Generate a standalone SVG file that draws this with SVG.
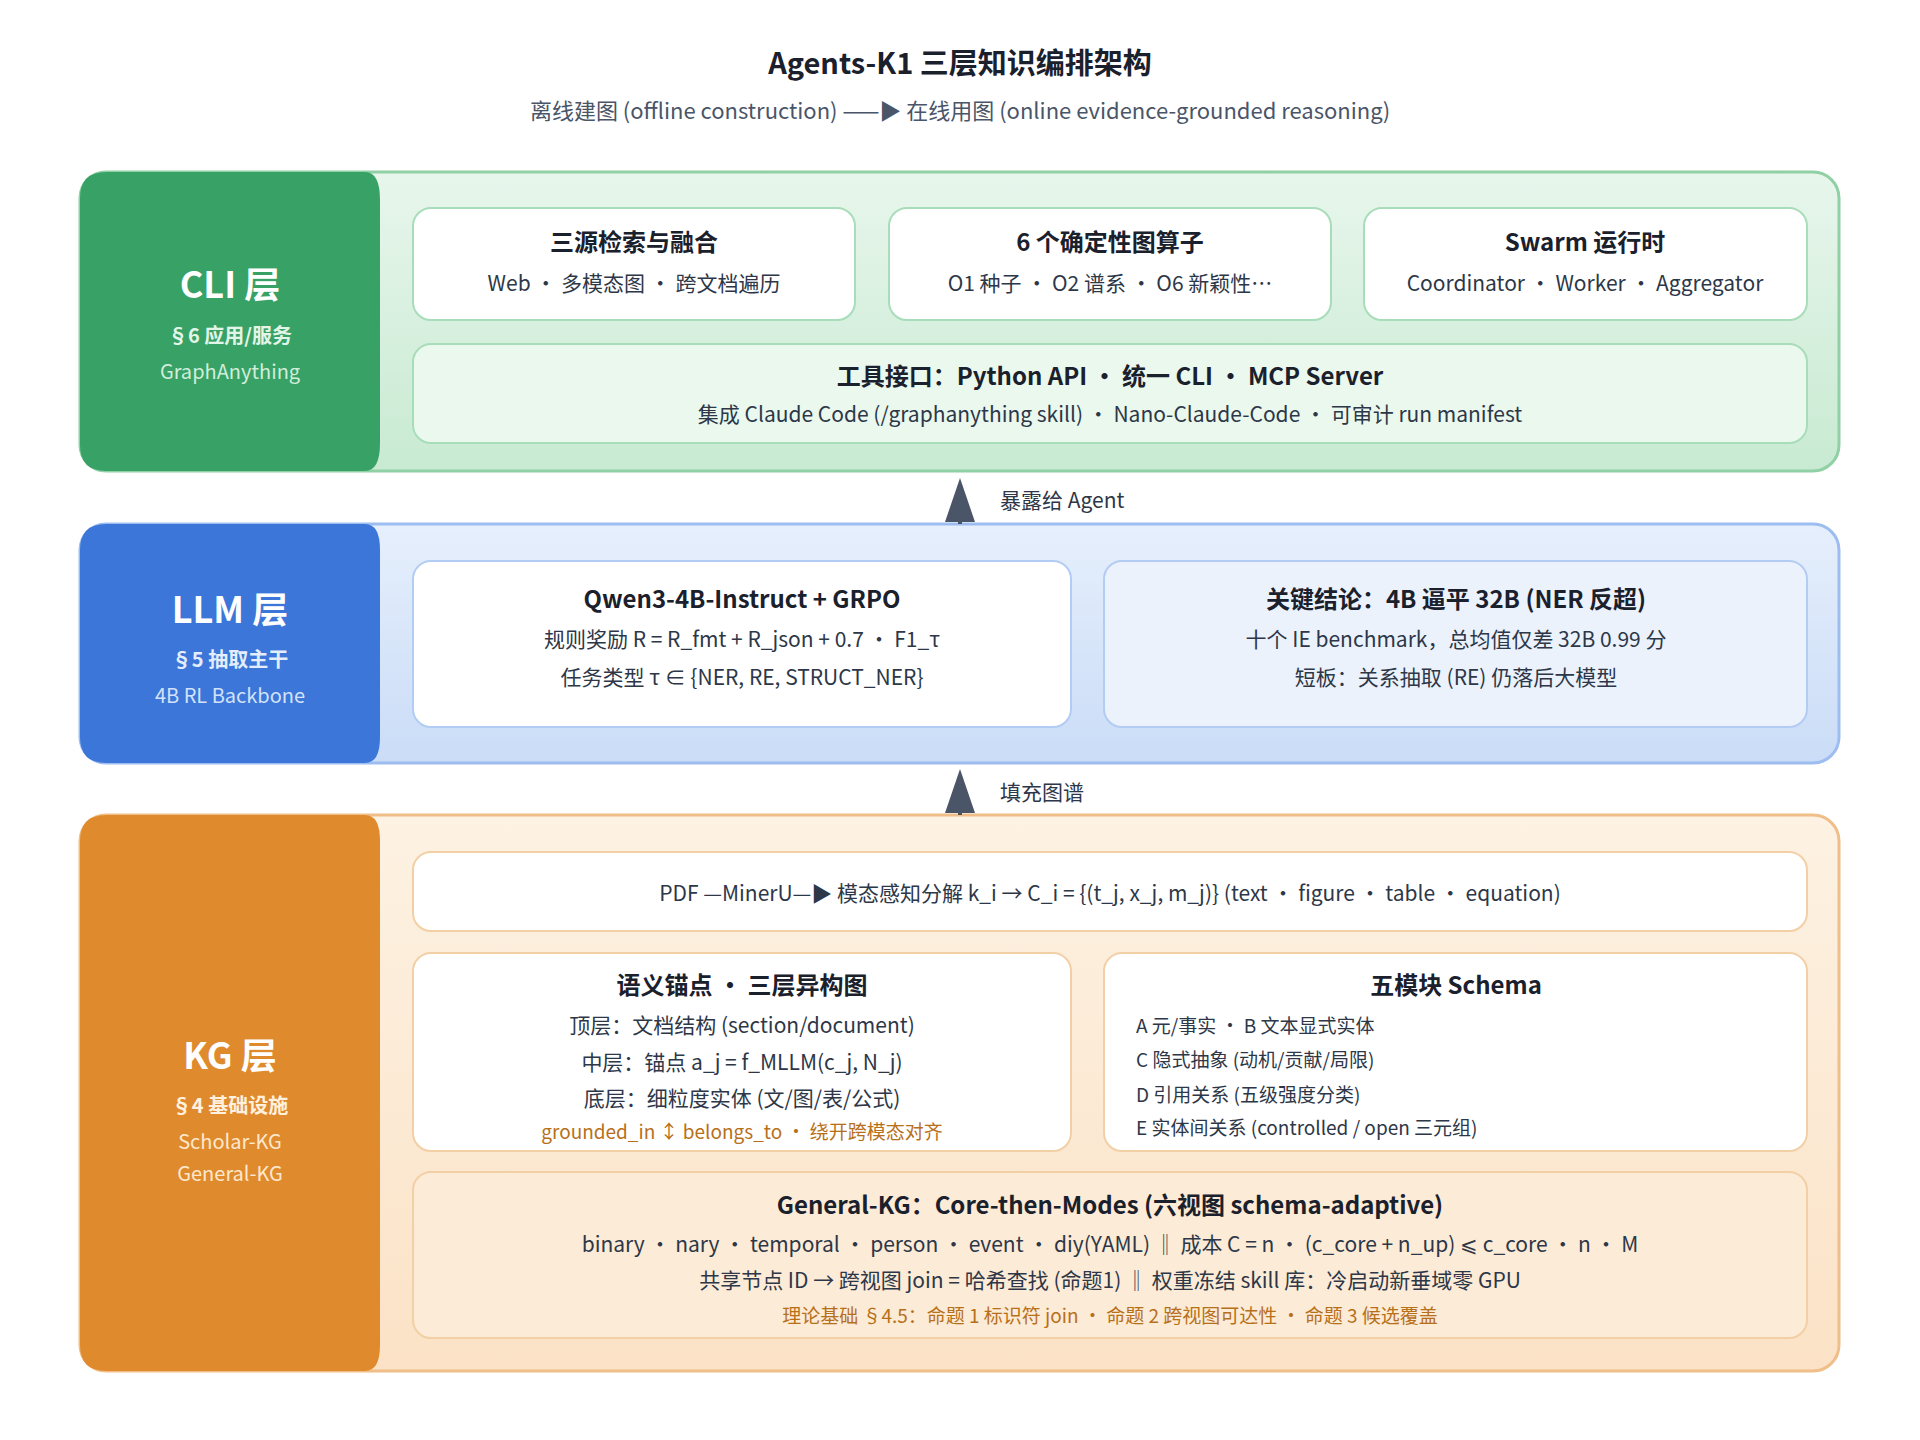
<svg xmlns="http://www.w3.org/2000/svg" width="1920" height="1440" viewBox="0 0 1920 1440">
<style>
text{font-family:"Noto Sans CJK SC","Noto Sans",sans-serif;text-anchor:middle;fill:#2D3748}
.t{font-size:29px;font-weight:700;fill:#1A202C}
.st{font-size:22px;fill:#4A5568}
.ct{font-size:24px;font-weight:700;fill:#1A202C}
.cb{font-size:21px;fill:#2D3748}
.lt{font-size:36px;font-weight:700;fill:#fff}
.ls{font-size:20px;font-weight:700}
.ll{font-size:20px}
.sm{font-size:19px;text-anchor:start}
.or{font-size:19px;fill:#B7701A}
.al{font-size:21px;text-anchor:start;fill:#2D3748}
.card{fill:#fff;stroke-width:2}
</style>
<defs>
<linearGradient id="gG" x1="0" y1="0" x2="0" y2="1"><stop offset="0" stop-color="#E8F6EC"/><stop offset="1" stop-color="#C8EAD2"/></linearGradient>
<linearGradient id="gB" x1="0" y1="0" x2="0" y2="1"><stop offset="0" stop-color="#E6EFFC"/><stop offset="1" stop-color="#CADCF7"/></linearGradient>
<linearGradient id="gO" x1="0" y1="0" x2="0" y2="1"><stop offset="0" stop-color="#FDF2E3"/><stop offset="1" stop-color="#FBE2C6"/></linearGradient>
</defs>
<text class="t" x="960" y="74">Agents-K1 三层知识编排架构</text>
<text class="st" x="960" y="119">离线建图 (offline construction) ——▶ 在线用图 (online evidence-grounded reasoning)</text>

<g id="cli">
<rect x="80" y="172" width="1759" height="299" rx="26" fill="url(#gG)" stroke="#8FD0A5" stroke-width="3"/>
<path d="M106 172 H365 Q380 172 380 200 V443 Q380 471 365 471 H106 Q80 471 80 445 V198 Q80 172 106 172 Z" fill="#38A165"/>
<text class="lt" x="230" y="298">CLI 层</text>
<text class="ls" x="230" y="343" style="fill:#E2F5E8">§6 应用/服务</text>
<text class="ll" x="230" y="379" style="fill:#D0EEDA">GraphAnything</text>
<g id="cli1"><rect class="card" x="413" y="208" width="442" height="112" rx="18" stroke="#A8DDB9"/>
<text class="ct" x="634" y="251">三源检索与融合</text><text class="cb" x="634" y="291">Web · 多模态图 · 跨文档遍历</text></g>
<g id="cli2"><rect class="card" x="889" y="208" width="442" height="112" rx="18" stroke="#A8DDB9"/>
<text class="ct" x="1110" y="251">6 个确定性图算子</text><text class="cb" x="1110" y="291">O1 种子 · O2 谱系 · O6 新颖性…</text></g>
<g id="cli3"><rect class="card" x="1364" y="208" width="443" height="112" rx="18" stroke="#A8DDB9"/>
<text class="ct" x="1585" y="251">Swarm 运行时</text><text class="cb" x="1585" y="291">Coordinator · Worker · Aggregator</text></g>
<g id="cli4"><rect x="413" y="344" width="1394" height="99" rx="18" fill="#EAF8EE" stroke="#A8DDB9" stroke-width="2"/>
<text class="ct" x="1110" y="385">工具接口：Python API · 统一 CLI · MCP Server</text>
<text class="cb" x="1110" y="422">集成 Claude Code (/graphanything skill) · Nano-Claude-Code · 可审计 run manifest</text></g>
</g>

<g id="llm">
<rect x="80" y="524" width="1759" height="239" rx="26" fill="url(#gB)" stroke="#9DBDF0" stroke-width="3"/>
<path d="M106 524 H365 Q380 524 380 550 V737 Q380 763 365 763 H106 Q80 763 80 737 V550 Q80 524 106 524 Z" fill="#3B76D8"/>
<text class="lt" x="230" y="623">LLM 层</text>
<text class="ls" x="230" y="667" style="fill:#E3EDFC">§5 抽取主干</text>
<text class="ll" x="230" y="703" style="fill:#D3E2FA">4B RL Backbone</text>
<g id="llm1"><rect class="card" x="413" y="561" width="658" height="166" rx="18" stroke="#B3CCF3"/>
<text class="ct" x="742" y="608">Qwen3-4B-Instruct + GRPO</text>
<text class="cb" x="742" y="647">规则奖励 R = R_fmt + R_json + 0.7 · F1_τ</text>
<text class="cb" x="742" y="685">任务类型 τ ∈ {NER, RE, STRUCT_NER}</text></g>
<g id="llm2"><rect x="1104" y="561" width="703" height="166" rx="18" fill="#EBF2FC" stroke="#B3CCF3" stroke-width="2"/>
<text class="ct" x="1456" y="608">关键结论：4B 逼平 32B (NER 反超)</text>
<text class="cb" x="1456" y="647">十个 IE benchmark，总均值仅差 32B 0.99 分</text>
<text class="cb" x="1456" y="685">短板：关系抽取 (RE) 仍落后大模型</text></g>
</g>

<g id="kg">
<rect x="80" y="815" width="1759" height="556" rx="26" fill="url(#gO)" stroke="#F0BE88" stroke-width="3"/>
<path d="M106 815 H365 Q380 815 380 841 V1345 Q380 1371 365 1371 H106 Q80 1371 80 1345 V841 Q80 815 106 815 Z" fill="#E08A2E"/>
<text class="lt" x="230" y="1069">KG 层</text>
<text class="ls" x="230" y="1113" style="fill:#FFF1DE">§4 基础设施</text>
<text class="ll" x="230" y="1149" style="fill:#FDE8CC">Scholar-KG</text>
<text class="ll" x="230" y="1181" style="fill:#FDE8CC">General-KG</text>
<g id="kg1"><rect class="card" x="413" y="852" width="1394" height="79" rx="18" stroke="#F3CFA5"/>
<text class="cb" x="1110" y="901">PDF —MinerU—▶ 模态感知分解 k_i → C_i = {(t_j, x_j, m_j)} (text · figure · table · equation)</text></g>
<g id="kg2"><rect class="card" x="413" y="953" width="658" height="198" rx="18" stroke="#F3CFA5"/>
<text class="ct" x="742" y="994">语义锚点 · 三层异构图</text>
<text class="cb" x="742" y="1033">顶层：文档结构 (section/document)</text>
<text class="cb" x="742" y="1070">中层：锚点 a_j = f_MLLM(c_j, N_j)</text>
<text class="cb" x="742" y="1106">底层：细粒度实体 (文/图/表/公式)</text>
<text class="or" x="742" y="1139">grounded_in ↕ belongs_to · 绕开跨模态对齐</text></g>
<g id="kg3"><rect class="card" x="1104" y="953" width="703" height="198" rx="18" stroke="#F3CFA5"/>
<text class="ct" x="1456" y="994">五模块 Schema</text>
<text class="sm" x="1136" y="1033">A 元/事实 · B 文本显式实体</text>
<text class="sm" x="1136" y="1067">C 隐式抽象 (动机/贡献/局限)</text>
<text class="sm" x="1136" y="1102">D 引用关系 (五级强度分类)</text>
<text class="sm" x="1136" y="1135">E 实体间关系 (controlled / open 三元组)</text></g>
<g id="kg4"><rect x="413" y="1172" width="1394" height="166" rx="18" fill="#FCEBD6" stroke="#F3CFA5" stroke-width="2"/>
<text class="ct" x="1110" y="1214">General-KG：Core-then-Modes (六视图 schema-adaptive)</text>
<text class="cb" x="1110" y="1252">binary · nary · temporal · person · event · diy(YAML) ‖ 成本 C = n · (c_core + n_up) ⩽ c_core · n · M</text>
<text class="cb" x="1110" y="1288">共享节点 ID → 跨视图 join = 哈希查找 (命题1) ‖ 权重冻结 skill 库：冷启动新垂域零 GPU</text>
<text class="or" x="1110" y="1323">理论基础 §4.5：命题 1 标识符 join · 命题 2 跨视图可达性 · 命题 3 候选覆盖</text></g>
</g>

<g id="connectors">
<line x1="960" y1="524" x2="960" y2="500" stroke="#4A5568" stroke-width="4"/>
<polygon points="960,478 945,522 975,522" fill="#4A5568"/>
<text class="al" x="1000" y="508">暴露给 Agent</text>
<line x1="960" y1="815" x2="960" y2="790" stroke="#4A5568" stroke-width="4"/>
<polygon points="960,769 945,813 975,813" fill="#4A5568"/>
<text class="al" x="1000" y="800">填充图谱</text>
</g>
</svg>
